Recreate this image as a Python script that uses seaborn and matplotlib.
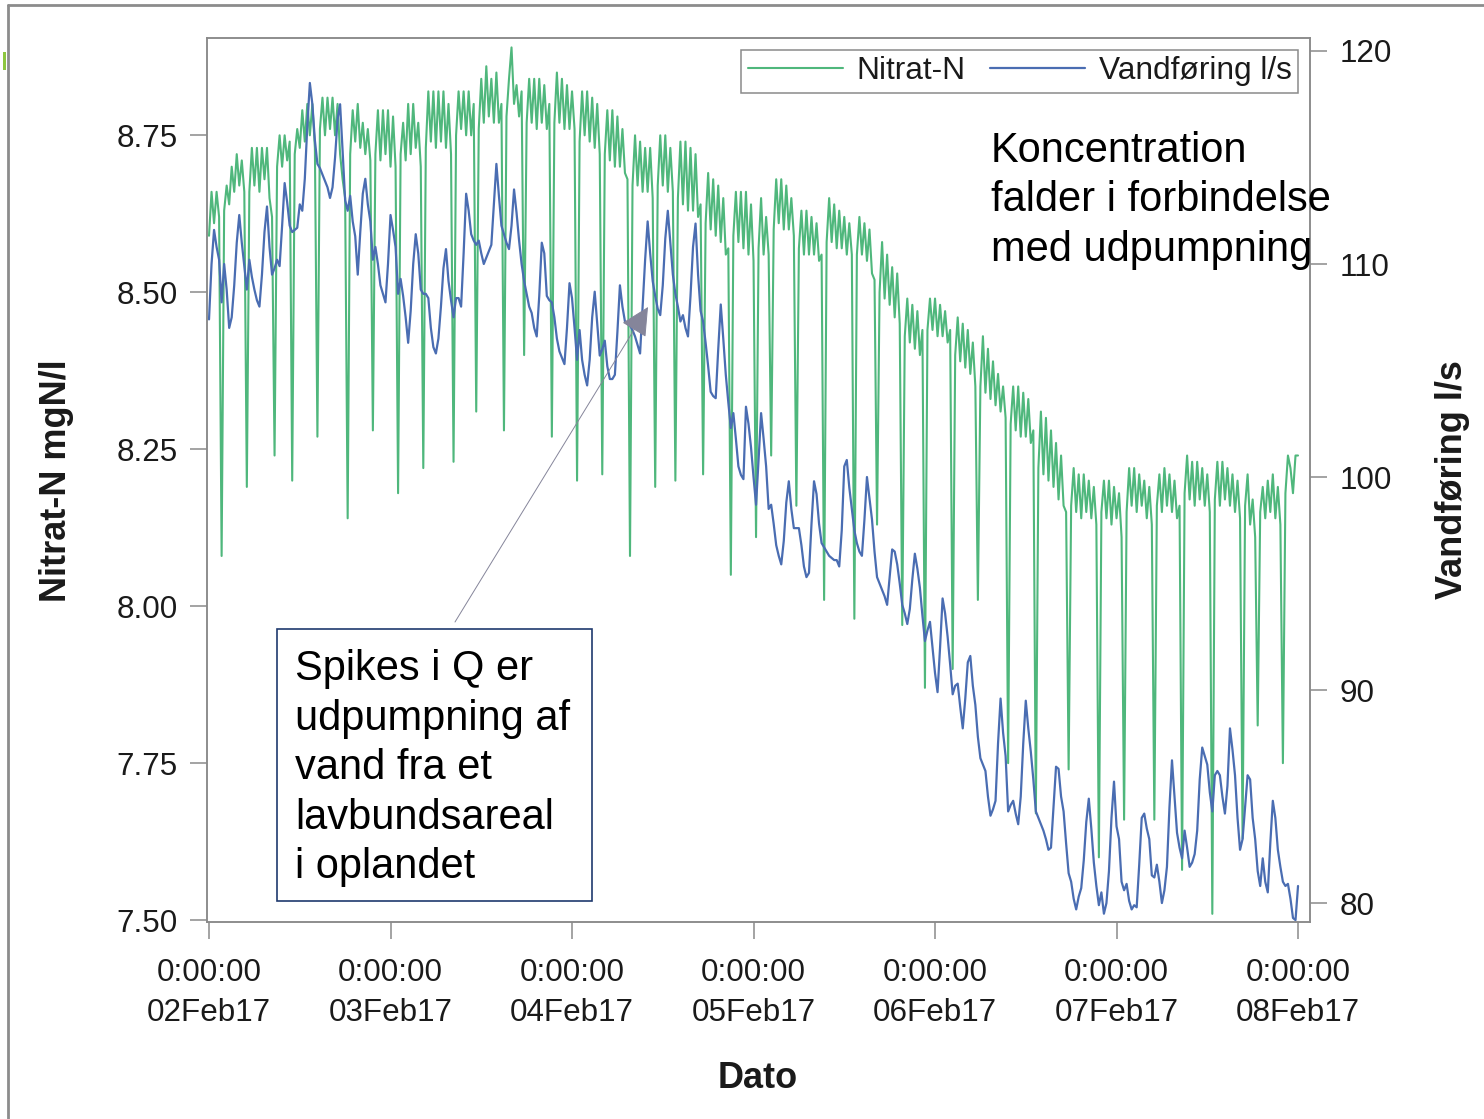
import matplotlib
matplotlib.use("Agg")
import matplotlib.pyplot as plt
import matplotlib.dates as mdates
from matplotlib.ticker import FixedLocator, FuncFormatter, FormatStrFormatter
from matplotlib.lines import Line2D
from matplotlib.patches import Rectangle
import numpy as np
import pandas as pd
import seaborn as sns

# ---------------- data (20-minute samples) ----------------
start_time = "2017-02-02 00:00"
sample_step = "20min"

nitrat = [
    8.59, 8.66, 8.61, 8.66, 8.62, 8.08,
    8.63, 8.67, 8.64, 8.70, 8.66, 8.72, 8.67, 8.71, 8.66, 8.19,
    8.66, 8.73, 8.67, 8.73, 8.66, 8.73, 8.68, 8.73, 8.65, 8.62, 8.24,
    8.70, 8.75, 8.70, 8.75, 8.71, 8.74, 8.20,
    8.72, 8.76, 8.73, 8.79, 8.74, 8.80, 8.75, 8.80, 8.73, 8.27,
    8.76, 8.81, 8.75, 8.81, 8.76, 8.81, 8.75, 8.80, 8.72, 8.68, 8.65, 8.14,
    8.72, 8.79, 8.74, 8.80, 8.73, 8.77, 8.72, 8.76, 8.71, 8.28,
    8.72, 8.79, 8.71, 8.79, 8.72, 8.79, 8.70, 8.78, 8.70, 8.18,
    8.72, 8.77, 8.71, 8.80, 8.72, 8.80, 8.73, 8.77, 8.70, 8.22,
    8.73, 8.82, 8.74, 8.82, 8.73, 8.82, 8.74, 8.82, 8.73, 8.80, 8.72, 8.23,
    8.75, 8.82, 8.76, 8.82, 8.75, 8.82, 8.75, 8.80, 8.31,
    8.76, 8.84, 8.77, 8.86, 8.78, 8.84, 8.77, 8.85, 8.77, 8.80, 8.28,
    8.78, 8.84, 8.89, 8.80, 8.83, 8.78, 8.82, 8.40,
    8.77, 8.84, 8.77, 8.84, 8.76, 8.84, 8.77, 8.83, 8.76, 8.80, 8.27,
    8.77, 8.85, 8.77, 8.84, 8.76, 8.83, 8.76, 8.82, 8.76, 8.20,
    8.74, 8.82, 8.75, 8.82, 8.74, 8.81, 8.73, 8.80, 8.72, 8.21,
    8.72, 8.79, 8.71, 8.79, 8.70, 8.78, 8.70, 8.76, 8.69, 8.68, 8.08,
    8.67, 8.75, 8.67, 8.74, 8.66, 8.73, 8.66, 8.73, 8.65, 8.19,
    8.67, 8.75, 8.67, 8.75, 8.66, 8.73, 8.66, 8.20,
    8.65, 8.74, 8.64, 8.74, 8.63, 8.73, 8.63, 8.72, 8.62, 8.64, 8.21,
    8.61, 8.69, 8.60, 8.68, 8.59, 8.67, 8.58, 8.65, 8.56, 8.57, 8.05,
    8.59, 8.66, 8.58, 8.66, 8.57, 8.66, 8.56, 8.64, 8.55, 8.11,
    8.57, 8.65, 8.56, 8.62, 8.56, 8.24,
    8.60, 8.68, 8.61, 8.68, 8.60, 8.67, 8.60, 8.65, 8.59, 8.16,
    8.57, 8.63, 8.56, 8.63, 8.56, 8.62, 8.56, 8.61, 8.55, 8.56, 8.01,
    8.58, 8.65, 8.58, 8.64, 8.57, 8.63, 8.57, 8.62, 8.56, 8.61, 8.56, 7.98,
    8.56, 8.62, 8.56, 8.61, 8.55, 8.60, 8.53, 8.52, 8.13,
    8.50, 8.58, 8.49, 8.56, 8.48, 8.54, 8.46, 8.53, 8.45, 7.97,
    8.43, 8.49, 8.42, 8.48, 8.41, 8.47, 8.40, 8.44, 7.87,
    8.44, 8.49, 8.44, 8.49, 8.43, 8.48, 8.43, 8.47, 8.42, 8.44, 7.90,
    8.40, 8.46, 8.39, 8.45, 8.38, 8.44, 8.37, 8.42, 8.35, 8.01,
    8.35, 8.43, 8.34, 8.41, 8.33, 8.39, 8.32, 8.37, 8.31, 8.35, 8.30, 7.75,
    8.29, 8.35, 8.28, 8.35, 8.27, 8.34, 8.27, 8.33, 8.26, 8.28, 7.67,
    8.22, 8.31, 8.21, 8.30, 8.20, 8.28, 8.19, 8.26, 8.17, 8.24, 8.16, 8.15, 7.74,
    8.16, 8.22, 8.15, 8.21, 8.14, 8.21, 8.15, 8.20, 8.14, 8.19, 8.13, 7.60,
    8.15, 8.20, 8.14, 8.20, 8.13, 8.19, 8.14, 8.18, 8.11, 7.66,
    8.15, 8.22, 8.16, 8.22, 8.15, 8.21, 8.16, 8.20, 8.14, 8.19, 8.13, 7.66,
    8.16, 8.21, 8.15, 8.22, 8.16, 8.21, 8.15, 8.20, 8.14, 8.16, 7.58,
    8.18, 8.24, 8.17, 8.23, 8.16, 8.23, 8.17, 8.22, 8.16, 8.21, 8.15, 7.51,
    8.17, 8.23, 8.16, 8.23, 8.17, 8.22, 8.16, 8.21, 8.15, 8.20, 8.14, 7.63,
    8.16, 8.21, 8.13, 8.17, 8.11, 7.81,
    8.15, 8.19, 8.14, 8.20, 8.15, 8.21, 8.14, 8.19, 8.13, 7.75,
    8.18, 8.24, 8.22, 8.18, 8.24, 8.24,
]

vandforing = [
    107.4, 110.0, 111.6, 110.8, 110.2, 108.2, 110.0, 108.8, 107.0, 107.5,
    109.0, 111.0, 112.3, 111.0, 109.9, 108.8, 110.2, 109.4, 108.8, 108.3,
    108.0, 109.5, 111.5, 112.7, 110.8, 109.5, 109.8, 110.2, 109.9, 111.8,
    113.8, 112.9, 111.8, 111.5, 111.6, 111.7, 112.8, 112.5, 114.0, 116.5,
    118.5, 117.5, 115.8, 114.7, 114.5, 114.2, 113.9, 113.6, 113.1, 113.6,
    115.0, 116.8, 117.5, 115.3, 113.0, 112.5, 113.2, 112.0, 111.3, 109.5,
    111.5, 113.3, 114.0, 112.8, 112.0, 110.2, 110.8, 110.0, 109.0, 108.6,
    108.2, 110.0, 112.3, 111.6, 110.8, 108.6, 109.3, 108.5, 107.5, 106.3,
    107.8, 110.0, 111.4, 110.5, 108.8, 108.6, 108.6, 108.4, 107.0, 106.1,
    105.8, 106.5, 108.0, 109.8, 110.7, 109.2, 108.3, 107.5, 108.4, 108.4,
    108.0, 110.5, 113.3, 112.5, 111.4, 111.1, 110.9, 111.1, 110.5, 110.0,
    110.3, 110.6, 110.9, 112.8, 114.7, 113.2, 111.8, 111.4, 111.0, 110.7,
    111.8, 113.5, 112.4, 111.1, 110.0, 109.2, 108.6, 108.0, 107.7, 107.0,
    106.6, 108.5, 111.0, 110.5, 108.5, 108.3, 108.2, 107.5, 106.5, 105.9,
    105.6, 105.3, 107.0, 109.1, 108.4, 107.0, 105.5, 106.9, 105.5, 104.8,
    104.3, 105.5, 107.5, 108.7, 107.2, 105.7, 106.0, 106.4, 105.2, 104.6,
    104.6, 104.8, 106.8, 109.0, 108.0, 107.3, 107.2, 107.1, 106.9, 106.6,
    106.2, 105.8, 108.0, 110.2, 112.0, 110.5, 109.2, 108.5, 107.9, 107.6,
    109.0, 111.2, 112.5, 111.0, 109.5, 108.6, 108.0, 107.3, 107.6, 107.0,
    106.6, 108.5, 110.8, 111.9, 109.5, 107.8, 107.3, 106.3, 105.2, 104.0,
    103.8, 103.7, 106.0, 108.1, 106.5, 104.8, 103.5, 102.3, 103.0, 101.8,
    100.5, 100.1, 99.9, 103.3, 102.5, 101.4, 100.0, 98.7, 100.8, 103.0,
    101.8, 100.5, 98.5, 98.7, 97.8, 96.8, 96.3, 95.9, 97.0, 98.8,
    99.8, 98.5, 97.6, 97.6, 97.6, 96.8, 95.8, 95.3, 95.5, 97.8,
    99.8, 99.2, 97.8, 96.9, 96.7, 96.5, 96.3, 96.2, 96.1, 96.1,
    95.8, 97.5, 100.5, 100.8, 99.5, 98.5, 97.5, 96.9, 96.5, 96.3,
    98.0, 100.0, 99.0, 98.0, 96.5, 95.3, 95.0, 94.7, 94.4, 94.0,
    95.3, 96.6, 96.5, 95.9, 95.0, 94.0, 93.6, 93.1, 93.8, 95.2,
    96.4, 95.7, 94.8, 93.5, 92.3, 92.8, 93.2, 92.0, 90.8, 89.9,
    92.0, 94.3, 93.6, 92.5, 91.2, 89.8, 90.2, 90.3, 89.2, 88.2,
    89.6, 91.3, 91.6, 90.2, 89.3, 87.8, 86.8, 86.5, 86.2, 85.0,
    84.1, 84.4, 84.8, 87.5, 89.6, 88.0, 86.9, 84.3, 84.6, 84.8,
    84.2, 83.7, 85.0, 87.5, 89.5, 88.2, 87.1, 85.8, 84.3, 84.0,
    83.7, 83.4, 83.0, 82.5, 82.6, 84.5, 86.4, 86.3, 85.0, 84.3,
    82.8, 81.4, 81.0, 80.2, 79.7, 80.3, 80.7, 82.0, 83.8, 84.9,
    83.5, 81.9, 80.8, 79.9, 80.5, 79.5, 80.0, 81.5, 84.0, 85.7,
    83.6, 83.0, 81.0, 80.6, 80.9, 80.1, 79.7, 79.9, 79.8, 81.8,
    84.0, 84.2, 83.5, 83.0, 81.3, 81.2, 81.8, 81.0, 80.0, 80.6,
    81.7, 84.5, 86.7, 85.0, 83.3, 82.6, 82.1, 83.4, 82.6, 81.7,
    81.9, 82.3, 83.4, 85.8, 87.3, 86.9, 86.5, 85.2, 84.3, 86.0,
    86.2, 86.0, 85.0, 84.2, 85.5, 88.2, 87.2, 86.0, 84.0, 82.5,
    83.0, 84.5, 86.0, 85.8, 84.0, 83.0, 81.5, 80.8, 82.1, 81.0,
    80.5, 82.8, 84.8, 84.0, 82.5, 81.7, 81.0, 80.8, 80.9, 80.2,
    79.3, 79.2, 80.8,
]

tick_days = ["2017-02-02", "2017-02-03", "2017-02-04", "2017-02-05",
             "2017-02-06", "2017-02-07", "2017-02-08"]
left_ticks = [7.50, 7.75, 8.00, 8.25, 8.50, 8.75]
right_ticks = [80, 90, 100, 110, 120]

series_names = ["Nitrat-N", "Vandføring l/s"]
left_label = "Nitrat-N mgN/l"
right_label = "Vandføring l/s"
x_label = "Dato"
note_right = "Koncentration\nfalder i forbindelse\nmed udpumpning"
note_box = "Spikes i Q er\nudpumpning af\nvand fra et\nlavbundsareal\ni oplandet"

# ---------------- style ----------------
sns.set_theme(style="ticks")
plt.rcParams["font.family"] = ["Liberation Sans", "DejaVu Sans"]

GREEN = "#4FB77C"
BLUE = "#4A6DB2"
GRAY = "#8a8a8a"
W, H = 1484, 1119
TICK_FS = 22.6

t_n = pd.date_range(start_time, periods=len(nitrat), freq=sample_step)
t_q = pd.date_range(start_time, periods=len(vandforing), freq=sample_step)
df_n = pd.DataFrame({"Dato": t_n, "value": nitrat})
df_q = pd.DataFrame({"Dato": t_q, "value": vandforing})

fig = plt.figure(figsize=(W / 100, H / 100), dpi=100)
ax = fig.add_axes([207 / W, 1 - 922 / H, 1103 / W, 884 / H])
ax2 = ax.twinx()

sns.lineplot(data=df_n, x="Dato", y="value", ax=ax, color=GREEN, lw=1.5,
             label=series_names[0], legend=False)
sns.lineplot(data=df_q, x="Dato", y="value", ax=ax2, color=BLUE, lw=1.6,
             label=series_names[1], legend=False)

# axes ranges
x0 = pd.Timestamp(tick_days[0]) - pd.Timedelta(minutes=16)
x1 = pd.Timestamp(tick_days[-1]) + pd.Timedelta(minutes=95)
ax.set_xlim(x0, x1)
ax.set_ylim(7.497, 8.905)
ax2.set_ylim(79.11, 120.61)

ax.xaxis.set_major_locator(FixedLocator(mdates.date2num(pd.to_datetime(tick_days))))


def date_fmt(x, pos):
    d = mdates.num2date(x)
    return f"{d.hour}:{d.minute:02d}:{d.second:02d}\n{d.strftime('%d%b%y')}"


ax.xaxis.set_major_formatter(FuncFormatter(date_fmt))
ax.set_yticks(left_ticks)
ax.yaxis.set_major_formatter(FormatStrFormatter("%.2f"))
ax2.set_yticks(right_ticks)

for a in (ax, ax2):
    a.set_xlabel("")
    a.set_ylabel("")
    for s in a.spines.values():
        s.set_visible(True)
        s.set_color(GRAY)
        s.set_linewidth(1.1)

ax.tick_params(axis="y", which="major", direction="out", length=12, width=1.1,
               color=GRAY, labelsize=TICK_FS, labelcolor="#1a1a1a", pad=9, left=True)
ax.tick_params(axis="x", which="major", direction="out", length=12, width=1.1,
               color=GRAY, labelsize=TICK_FS, labelcolor="#1a1a1a", pad=14, bottom=True)
ax2.tick_params(axis="y", which="major", direction="out", length=12, width=1.1,
                color=GRAY, labelsize=TICK_FS, labelcolor="#1a1a1a", pad=9, right=True)
ax2.tick_params(axis="x", bottom=False, top=False)
for lab in ax.get_xticklabels():
    lab.set_linespacing(1.45)

# legend
handles = [ax.get_lines()[0], ax2.get_lines()[0]]
leg = ax2.legend(handles, series_names, loc="upper right",
                 bbox_to_anchor=(1298 / W, 1 - 50 / H), bbox_transform=fig.transFigure,
                 ncol=2, fontsize=22.8, frameon=True, fancybox=False, framealpha=1,
                 edgecolor=GRAY, borderpad=0.2, handlelength=3.0, handletextpad=0.42,
                 columnspacing=0.8, borderaxespad=0)
leg.get_frame().set_linewidth(1.1)
for txt in leg.get_texts():
    txt.set_color("#1a1a1a")

# axis labels
fig.text(57 / W, 1 - 481 / H, left_label, rotation=90, ha="center", va="center",
         fontsize=26, fontweight="bold", color="#1a1a1a")
fig.text(1453 / W, 1 - 480 / H, right_label, rotation=90, ha="center", va="center",
         fontsize=26, fontweight="bold", color="#1a1a1a")
fig.text(758 / W, 1 - 1079 / H, x_label, ha="center", va="center",
         fontsize=26, fontweight="bold", color="#1a1a1a")

# annotations
fig.text(991 / W, 1 - 131 / H, note_right, ha="left", va="top", fontsize=30,
         color="black", linespacing=1.3)
fig.add_artist(Rectangle((277 / W, 1 - 901 / H), 315 / W, 272 / H,
                         transform=fig.transFigure, facecolor="white",
                         edgecolor="#1F3A6E", lw=1.2, zorder=3))
fig.text(295 / W, 1 - 649 / H, note_box, ha="left", va="top", fontsize=30,
         color="black", linespacing=1.31, zorder=4)
ax2.annotate("", xy=(648 / W, 1 - 307 / H), xytext=(455 / W, 1 - 622 / H),
             xycoords="figure fraction", textcoords="figure fraction",
             arrowprops=dict(arrowstyle="-|>,head_length=0.9,head_width=0.45",
                             color="#85859a", lw=0.7, shrinkA=0, shrinkB=0,
                             mutation_scale=20))

# slide frame remnants
fig.add_artist(Line2D([8 / W, 8 / W], [0, 1 - 5 / H], transform=fig.transFigure,
                      color="#8c8c8c", lw=2))
fig.add_artist(Line2D([8 / W, 1], [1 - 5 / H, 1 - 5 / H], transform=fig.transFigure,
                      color="#8c8c8c", lw=2))
fig.add_artist(Rectangle((3 / W, 1 - 70 / H), 3 / W, 18 / H, transform=fig.transFigure,
                         color="#8DC63F", lw=0))

fig.savefig("out.png", dpi=100)
